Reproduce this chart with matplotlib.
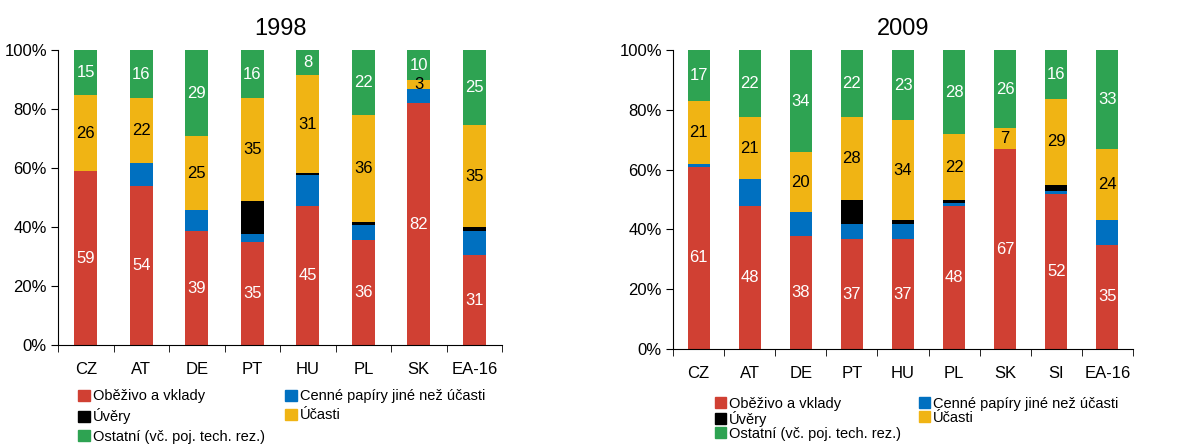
import numpy as np
import matplotlib
matplotlib.use("Agg")
import matplotlib.pyplot as plt
from matplotlib.patches import Patch

plt.rcParams["font.family"] = ["Liberation Sans", "DejaVu Sans"]

# 1998
countries_98 = ["CZ", "AT", "DE", "PT", "HU", "PL", "SK", "EA-16"]
obezivo_98 = [59, 54, 38.6, 35, 47.2, 35.7, 82, 30.5]
cenne_98 = [0, 7.7, 7.2, 2.6, 10.4, 5, 4.8, 8.1]
uvery_98 = [0, 0, 0, 11.2, 0.7, 1, 0, 1.4]
ucasti_98 = [25.7, 22, 25, 35, 33.2, 36.3, 3, 34.6]
ostatni_98 = [15.3, 16.3, 29.2, 16.2, 8.5, 22, 10.2, 25.4]
lab_obezivo_98 = ["59", "54", "39", "35", "45", "36", "82", "31"]
lab_ucasti_98 = ["26", "22", "25", "35", "31", "36", "3", "35"]
lab_ostatni_98 = ["15", "16", "29", "16", "8", "22", "10", "25"]

# 2009
countries_09 = ["CZ", "AT", "DE", "PT", "HU", "PL", "SK", "SI", "EA-16"]
obezivo_09 = [60.9, 47.9, 37.8, 36.8, 36.8, 47.9, 66.9, 52, 34.8]
cenne_09 = [1, 9, 8, 5, 5, 0.9, 0, 0.9, 8.4]
uvery_09 = [0, 0, 0, 8, 1.3, 1, 0, 2, 0]
ucasti_09 = [21, 20.7, 20.1, 27.8, 33.5, 22.1, 7, 28.8, 23.7]
ostatni_09 = [17.1, 22.4, 34.1, 22.4, 23.4, 28.1, 26.1, 16.3, 33.1]
lab_obezivo_09 = ["61", "48", "38", "37", "37", "48", "67", "52", "35"]
lab_ucasti_09 = ["21", "21", "20", "28", "34", "22", "7", "29", "24"]
lab_ostatni_09 = ["17", "22", "34", "22", "23", "28", "26", "16", "33"]

series_names = ["Oběživo a vklady", "Cenné papíry jiné než účasti", "Úvěry",
                "Účasti", "Ostatní (vč. poj. tech. rez.)"]
colors = ["#d04033", "#0070c0", "#000000", "#f0b414", "#2ea352"]


def draw(ax, title, cats, vals, labels, width):
    x = np.arange(len(cats))
    bottom = np.zeros(len(cats))
    for i, v in enumerate(vals):
        v = np.array(v)
        ax.bar(x, v, width, bottom=bottom, color=colors[i], linewidth=0)
        if i in labels:
            txt, col = labels[i]
            for xi, b, h, t in zip(x, bottom, v, txt):
                ax.text(xi, b + h / 2, t, ha="center", va="center",
                        color=col, fontsize=12)
        bottom += v
    ax.set_xlim(-0.5, len(cats) - 0.5)
    ax.set_ylim(0, 100)
    ax.set_yticks(range(0, 101, 20))
    ax.set_yticklabels([f"{t}%" for t in range(0, 101, 20)], fontsize=12)
    ax.set_xticks(x)
    ax.set_xticklabels(cats, fontsize=12)
    ax.set_xticks(np.arange(-0.5, len(cats)), minor=True)
    ax.tick_params(axis="x", which="major", length=0, pad=12)
    ax.tick_params(axis="x", which="minor", length=5, direction="out")
    ax.tick_params(axis="y", length=5, direction="out", pad=3)
    ax.spines["top"].set_visible(False)
    ax.spines["right"].set_visible(False)
    ax.set_title(title, fontsize=17, pad=11)


fig = plt.figure(figsize=(11.85, 4.44), dpi=100)
ax1 = fig.add_axes([0.049, 0.223, 0.3747, 0.664])
ax2 = fig.add_axes([0.568, 0.214, 0.388, 0.673])

draw(ax1, "1998", countries_98,
     [obezivo_98, cenne_98, uvery_98, ucasti_98, ostatni_98],
     {0: (lab_obezivo_98, "white"), 3: (lab_ucasti_98, "black"),
      4: (lab_ostatni_98, "white")}, 0.41)
draw(ax2, "2009", countries_09,
     [obezivo_09, cenne_09, uvery_09, ucasti_09, ostatni_09],
     {0: (lab_obezivo_09, "white"), 3: (lab_ucasti_09, "black"),
      4: (lab_ostatni_09, "white")}, 0.43)

handles = [Patch(color=c, label=n) for c, n in zip(colors, series_names)]
order = [0, 2, 4, 1, 3]
hs = [handles[i] for i in order]

fig.legend(handles=hs, loc="upper left", bbox_to_anchor=(0.066, 0.123),
           ncol=2, frameon=False, fontsize=10.5, handlelength=0.8,
           handleheight=0.8, handletextpad=0.2, labelspacing=0.35,
           columnspacing=1.4, borderaxespad=0, borderpad=0)
fig.legend(handles=hs, loc="upper left", bbox_to_anchor=(0.603, 0.106),
           ncol=2, frameon=False, fontsize=10.5, handlelength=0.8,
           handleheight=0.8, handletextpad=0.2, labelspacing=0.0,
           columnspacing=1.2, borderaxespad=0, borderpad=0)

fig.savefig("out.png", dpi=100)
